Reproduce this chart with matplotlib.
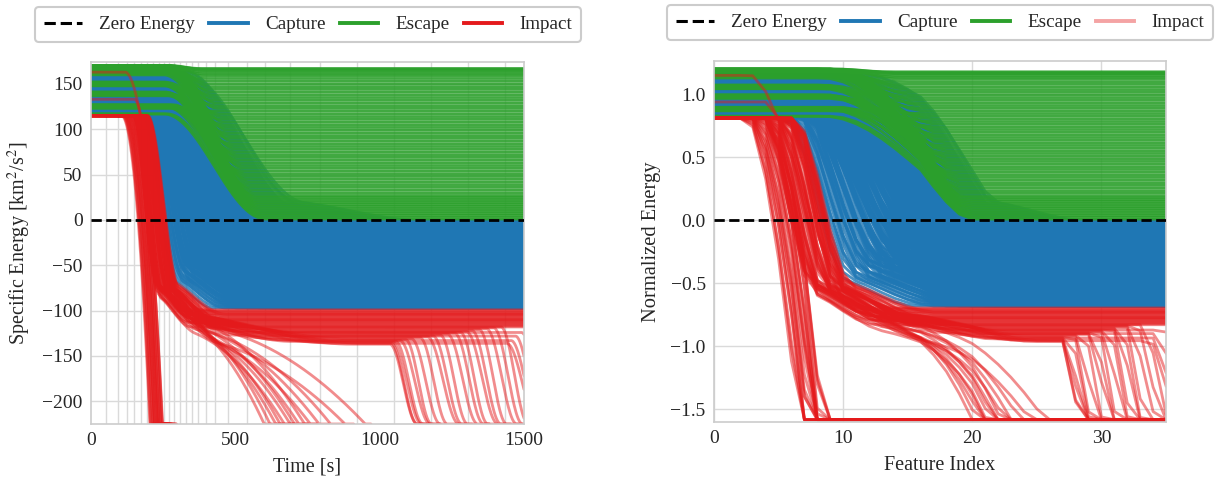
import numpy as np
import matplotlib
matplotlib.use("Agg")
import matplotlib.pyplot as plt
from matplotlib.lines import Line2D

plt.rcParams['font.family'] = ['Liberation Serif', 'DejaVu Serif']
plt.rcParams['mathtext.fontset'] = 'stix'
plt.rcParams['text.color'] = '#262626'
plt.rcParams['axes.labelcolor'] = '#262626'
plt.rcParams['xtick.color'] = '#262626'
plt.rcParams['ytick.color'] = '#262626'

# ---------------- data ----------------
# feature sample times: feature index i  <->  time [s]
feature_times = [0, 52, 92, 123, 150, 173, 194, 216, 240, 264, 288, 312, 336, 360, 384,
                 408, 432, 470, 510, 555, 603, 665, 727, 789, 851, 913, 975, 1037, 1100,
                 1162, 1224, 1286, 1348, 1410, 1455, 1500]
# vertical time grid lines of the left panel
time_grid_lines = [52, 92, 123, 150, 173, 194, 216, 236, 254, 271, 289, 308, 328, 349, 372,
                   397, 430, 476, 539, 603, 690, 794, 922, 1050, 1178, 1306, 1434]

E_FLOOR = -225.0      # impact floor energy [km^2/s^2]
E_SCALE = 142.0       # normalisation of the right panel
E_LOW_START = 115.0   # common start energy of impact trajectories

# Capture trajectories (base set): start, final energy, drop start, main drop duration
cap_start = [116, 117, 118, 120, 122,
             141, 127, 156, 133, 149, 121, 162, 138, 126, 153, 145, 130, 159, 135, 124,
             150, 143, 128, 164, 137, 155, 119, 147, 132, 160, 140, 125, 152, 134, 158,
             144, 129, 161, 136, 123, 154, 146, 131, 163, 139, 148, 157, 142, 151]
cap_final = [-97, -95, -93, -91, -89, -87, -85, -83, -81, -79, -77, -75, -73, -71, -69,
             -67, -65, -63, -61, -59, -57, -55, -53, -51, -49, -47, -45, -43, -41, -39,
             -37, -35, -33, -31, -29, -27, -25, -23, -21, -19, -17, -15, -13, -11, -9,
             -7, -5, -3, -1]
cap_t0 = [178, 180, 182, 184, 185, 187, 189, 191, 192, 194, 196, 198, 199, 201, 203,
          205, 206, 208, 210, 212, 213, 215, 217, 219, 220, 222, 224, 226, 227, 229,
          231, 233, 234, 236, 238, 240, 241, 243, 245, 247, 248, 250, 252, 254, 255,
          257, 259, 261, 262]
cap_d1 = [118, 122, 126, 129, 133, 137, 140, 144, 148, 152, 155, 159, 163, 166, 170,
          174, 178, 181, 185, 189, 192, 196, 200, 204, 207, 211, 215, 218, 222, 226,
          229, 233, 237, 241, 244, 248, 252, 255, 259, 263, 267, 270, 274, 278, 281,
          285, 289, 293, 296]
# timing variants applied to the base set (start shift, duration stretch)
cap_shift = [0, 12, 24, 36, 48, 60, 72, 84]
cap_stretch = [0, 14, 28, 42, 56, 70, 84, 98]

# Escape trajectories: start, final energy, transition start / end time
esc_start = [117, 117, 124, 125, 126, 127,
             166, 150, 168, 139, 164, 125, 169, 151, 140, 167, 123, 149, 170, 138, 162,
             152, 126, 165, 141, 161, 124, 169, 148, 137, 163, 150, 127, 170, 140, 160,
             139, 168, 151, 138, 164, 141, 170, 149, 125, 167, 148, 165, 152, 170, 162,
             169, 163, 170, 166, 170, 168, 170, 169, 170, 170, 170, 170]
esc_final = [1, 3, 5, 7, 9, 11, 13, 15, 17, 19, 21, 23, 25, 27, 30, 33, 36, 39, 42, 45,
             48, 51, 54, 57, 60, 63, 66, 69, 72, 75, 78, 81, 84, 87, 90, 93, 96, 99, 102,
             105, 108, 111, 114, 117, 120, 123, 126, 129, 132, 135, 138, 141, 144, 147,
             150, 153, 156, 159, 161, 163, 165, 166, 167]
esc_t0 = [250, 262, 275, 256, 270, 284, 252] * 9
esc_t1 = [605, 600, 598, 595, 592, 590, 588, 585, 582, 580, 578, 575, 572, 570,
          565, 560, 556, 552, 548, 544, 540, 536, 532, 528, 524,
          520, 516, 512, 508, 504, 500, 496, 492, 488, 484, 480, 476, 472,
          468, 464, 460, 456, 452, 448, 444, 440, 436, 432, 428, 424, 420,
          416, 412, 408, 404, 400, 396, 392,
          390, 388, 386, 384, 382]

# Impact A: direct plunge to the floor
fast_t0 = [106, 108, 110, 112, 114, 116, 118, 119, 121, 123, 125, 127, 129, 131, 133,
           135, 137, 139, 141, 143, 145, 147]
fast_dur = [98, 100, 96, 102, 99, 104, 97, 101, 103, 98, 105, 100, 102, 99, 104, 101,
            97, 103, 100, 105, 102, 99]
fast_tail = [30, 45, 60, 25, 50, 40, 70, 35, 55, 45, 30, 65, 40, 50, 35, 60, 45, 30, 55,
             40, 30, 25]

# Impact B: drop to a plateau that lasts to the end
plat_start = [115] * 20 + [163, 133]
plat_level = [-99, -100, -101, -102, -103, -104, -105, -106, -107, -108, -109, -110,
              -111, -112, -113, -114, -115, -116, -117, -118, -104, -110]
plat_t0 = [146, 172, 152, 188, 158, 178, 149, 194, 164, 182, 155, 190, 168, 185, 150,
           175, 161, 192, 180, 156, 118, 150]
plat_d1 = [82, 98, 86, 108, 90, 100, 84, 112, 93, 104, 88, 110, 96, 106, 85,
           99, 91, 114, 102, 87, 175, 120]
plat_d2 = [130, 155, 120, 180, 140, 165, 125, 190, 150, 170, 135, 200, 155, 185, 128,
           160, 145, 195, 175, 132, 230, 200]

# Impact C: drop to a plateau, slow decay, impact at mid times
mid_level = [-104, -108, -112, -115, -118, -120, -110, -122, -106, -125, -114, -119, -128, -116]
mid_t0 = [150, 180, 162, 190, 156, 194, 168, 184, 148, 192, 174, 160, 186, 171]
mid_d1 = [86, 100, 92, 106, 89, 110, 95, 103, 84, 112, 97, 91, 107, 98]
mid_t2 = [250, 270, 260, 280, 255, 290, 265, 300, 275, 285, 260, 295, 270, 305]
mid_end = [600, 620, 640, 655, 670, 690, 705, 720, 740, 760, 790, 830, 880, 950]
mid_tail = [25, 40, 30, 50, 35, 20, 45, 30, 40, 25, 35, 45, 30, 20]

# Impact D: long plateau, late plunge
late_first = [-102, -104, -106, -108, -103, -105, -107, -109, -101, -104, -106, -108,
              -102, -105, -107, -103, -104, -106, -102, -105, -108, -103, -106, -104]
late_t0 = [152, 168, 182, 194, 160, 174, 188, 148, 164, 178, 190, 156, 171, 185, 196,
           150, 166, 180, 192, 158, 172, 186, 157, 183]
late_d1 = [84, 94, 102, 110, 88, 96, 104, 82, 92, 100, 108, 86, 95, 103, 112,
           83, 93, 101, 109, 87, 97, 105, 89, 102]
late_level = [-137, -136, -135, -134, -133, -132, -131, -130, -129, -128, -127, -126,
              -125, -124, -123, -122, -121, -120, -119, -118, -136, -133, -128, -124]
late_settle = [900, 950, 800, 700, 850, 650, 900, 600, 750, 700, 500, 800, 600, 550,
               700, 500, 650, 450, 600, 500, 850, 700, 600, 550]
late_plunge = [1035, 1040, 1045, 1055, 1070, 1090, 1110, 1140, 1165, 1185, 1210, 1235,
               1260, 1280, 1300, 1320, 1345, 1370, 1395, 1420, 1440, 1455, 1470, 1490]
late_pdur = [95, 90, 100, 95, 105, 90, 100, 95, 110, 100, 95, 105, 100, 95, 110, 100,
             95, 105, 100, 95, 110, 100, 95, 105]
late_tail = [30, 20, 40, 25, 35, 30, 20, 45, 25, 35, 30, 40, 20, 30, 25, 35, 40, 30, 25,
             35, 20, 30, 25, 20]

C_CAPTURE = '#1f77b4'
C_ESCAPE = '#2ca02c'
C_IMPACT = '#e41a1c'


# ---------------- trajectory shapes ----------------
def ease(t, a, b):
    u = np.clip((t - a) / (b - a), 0, 1)
    return 0.5 - 0.5 * np.cos(np.pi * u)


def knee(t, a, d1, d2, f=0.85):
    """steep drop over d1 followed by a slow settling over d2"""
    b = a + 0.7 * d1
    return f * ease(t, a, a + d1) + (1 - f) * ease(t, b, b + d2)


def accel(t, a, d, p=2.0):
    u = np.clip((t - a) / d, 0, 1)
    return u ** p


def build(t):
    """Return list of (group, energy array, end time)."""
    out = []
    n = len(cap_final)
    for v, (sh, st) in enumerate(zip(cap_shift, cap_stretch)):
        for i in range(n):
            e0 = cap_start[5 + (i - 5 + 7 * v) % (n - 5)] if i >= 5 else cap_start[i]
            ef = cap_final[i]
            a = cap_t0[i] + sh
            d1 = cap_d1[i] + st
            out.append(('cap', e0 + (ef - e0) * knee(t, a, d1, 1.4 * d1, 0.85), 1e9))
    for e0, ef, a, b in zip(esc_start, esc_final, esc_t0, esc_t1):
        out.append(('esc', e0 + (ef - e0) * ease(t, a, b), 1e9))
    for a, d, tail in zip(fast_t0, fast_dur, fast_tail):
        e = E_LOW_START + (E_FLOOR - E_LOW_START) * accel(t, a, d)
        out.append(('imp', e, a + d + tail))
    for e0, lv, a, d1, d2 in zip(plat_start, plat_level, plat_t0, plat_d1, plat_d2):
        out.append(('imp', e0 + (lv - e0) * knee(t, a, d1, d2), 1e9))
    for lv, a, d1, t2, te, tail in zip(mid_level, mid_t0, mid_d1, mid_t2, mid_end, mid_tail):
        e = (E_LOW_START + (lv - E_LOW_START) * knee(t, a, d1, 1.6 * d1)
             + (E_FLOOR - lv) * accel(t, t2, te - t2))
        out.append(('imp', e, te + tail))
    for f1, a, d1, lv, ts, tp, pd, tail in zip(late_first, late_t0, late_d1, late_level,
                                               late_settle, late_plunge, late_pdur, late_tail):
        e = (E_LOW_START + (f1 - E_LOW_START) * knee(t, a, d1, 1.6 * d1)
             + (lv - f1) * ease(t, 260, ts)
             + (E_FLOOR - lv) * ease(t, tp, tp + pd))
        out.append(('imp', e, tp + pd + tail))
    return out


t_fine = np.arange(0, 1501, 2.0)
t_feat = np.array(feature_times, dtype=float)
idx_feat = np.arange(len(feature_times))

left_curves = build(t_fine)
right_curves = build(t_feat)

style = {'cap': dict(color=C_CAPTURE, alpha=0.8, lw=2.0),
         'esc': dict(color=C_ESCAPE, alpha=0.9, lw=2.0),
         'imp': dict(color=C_IMPACT, alpha=0.5, lw=2.0)}

# ---------------- figure ----------------
W, H = 1215, 479
fig = plt.figure(figsize=(W / 100, H / 100), dpi=100)
ax1 = fig.add_axes([91 / W, (H - 424) / H, 433 / W, 362.3 / H])
ax2 = fig.add_axes([714 / W, (H - 422) / H, 452 / W, 361 / H])

for ax in (ax1, ax2):
    ax.set_facecolor('white')
    for sp in ax.spines.values():
        sp.set_color('#cccccc')
        sp.set_linewidth(1.2)
    ax.tick_params(length=0, labelsize=14, pad=6)
    ax.set_axisbelow(True)

# left panel
for grp in ('cap', 'esc', 'imp'):
    for g, e, tend in left_curves:
        if g != grp:
            continue
        m = t_fine <= tend
        ax1.plot(t_fine[m], e[m], solid_capstyle='round', **style[grp])
ax1.axhline(0, color='black', ls='--', lw=2.0, zorder=6)
ax1.set_xlim(0, 1500)
ax1.set_ylim(-225, 174.5)
ax1.set_xticks([0, 500, 1000, 1500])
ax1.set_yticks([150, 100, 50, 0, -50, -100, -150, -200])
ax1.set_xticks(time_grid_lines, minor=True)
ax1.tick_params(which='minor', length=0)
ax1.grid(True, which='minor', axis='x', color='#dadada', lw=1.0)
ax1.grid(True, which='major', axis='y', color='#dadada', lw=1.0)
ax1.set_xlabel('Time [s]', fontsize=14.5, labelpad=6)
ax1.set_ylabel('Specific Energy [km$^2$/s$^2$]', fontsize=14.5, labelpad=7)

# right panel
for grp in ('cap', 'esc', 'imp'):
    for g, e, tend in right_curves:
        if g != grp:
            continue
        ax2.plot(idx_feat, e / E_SCALE, **style[grp])
ax2.axhline(0, color='black', ls='--', lw=2.0, zorder=6)
ax2.set_xlim(0, 35)
ax2.set_ylim(-1.603, 1.262)
ax2.set_xticks([0, 10, 20, 30])
ax2.set_yticks([1.0, 0.5, 0.0, -0.5, -1.0, -1.5])
ax2.grid(True, color='#dadada', lw=1.0)
ax2.set_xlabel('Feature Index', fontsize=14.5, labelpad=6)
ax2.set_ylabel('Normalized Energy', fontsize=14.8, labelpad=7)

# legends
def handles(impact_alpha):
    return [Line2D([], [], color='black', ls='--', lw=2.2),
            Line2D([], [], color=C_CAPTURE, lw=2.8),
            Line2D([], [], color=C_ESCAPE, lw=2.8),
            Line2D([], [], color=C_IMPACT, lw=2.8, alpha=impact_alpha)]

labels = ['Zero Energy', 'Capture', 'Escape', 'Impact']
leg_kw = dict(ncol=4, loc='lower center', fontsize=13.8, frameon=True, fancybox=True,
              edgecolor='#cccccc', framealpha=1.0, handlelength=2.0, handletextpad=0.9,
              columnspacing=0.75, borderpad=0.45, borderaxespad=0.0,
              bbox_transform=fig.transFigure)
l1 = fig.legend(handles(1.0), labels, bbox_to_anchor=(308 / W, 1 - 42 / H), **leg_kw)
l2 = fig.legend(handles(0.4), labels, bbox_to_anchor=(940 / W, 1 - 40 / H), **leg_kw)
for lg in (l1, l2):
    lg.get_frame().set_linewidth(1.5)

fig.savefig('out.png', dpi=100)
